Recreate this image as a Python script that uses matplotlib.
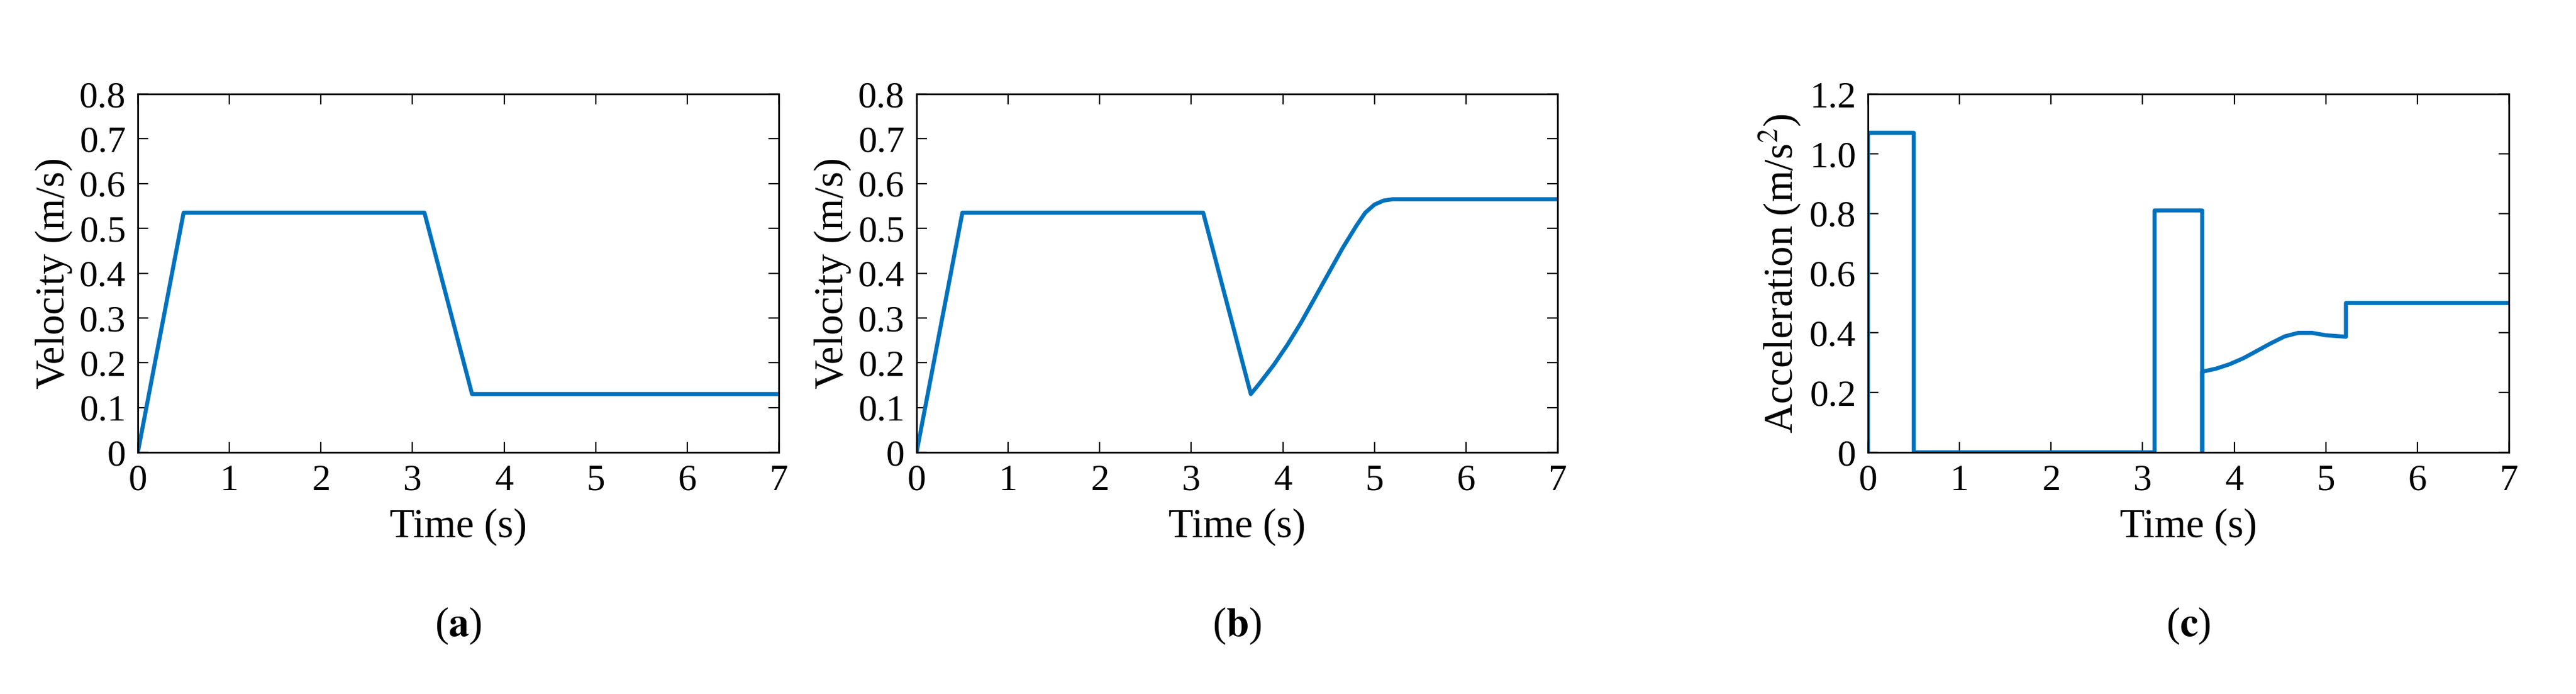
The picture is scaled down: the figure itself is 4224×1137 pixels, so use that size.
import matplotlib
matplotlib.use("Agg")
import matplotlib.pyplot as plt
from matplotlib.ticker import FuncFormatter

plt.rcParams['font.family'] = ['Liberation Serif', 'DejaVu Serif']
plt.rcParams['mathtext.fontset'] = 'stix'

t_a = [0, 0.5, 3.13, 3.65, 7]
v_a = [0, 0.535, 0.535, 0.13, 0.13]

t_b = [0, 0.5, 3.13, 3.65, 3.75, 3.9, 4.05, 4.2, 4.35, 4.5, 4.65, 4.8, 4.9, 5.0, 5.1, 5.2, 7]
v_b = [0, 0.535, 0.535, 0.13, 0.155, 0.195, 0.24, 0.29, 0.345, 0.40, 0.455, 0.505, 0.535, 0.553, 0.562, 0.565, 0.565]

t_c = [0, 0, 0.5, 0.5, 3.13, 3.13, 3.65, 3.65, 3.65, 3.8, 3.95, 4.1, 4.25, 4.4, 4.55, 4.7, 4.85, 5.0, 5.22, 5.22, 7]
a_c = [0, 1.07, 1.07, 0, 0, 0.81, 0.81, 0, 0.27, 0.28, 0.295, 0.315, 0.34, 0.365, 0.388, 0.40, 0.40, 0.392, 0.387, 0.5, 0.5]

color = '#0072BD'
fig = plt.figure(figsize=(21.12, 5.685), dpi=200)
lefts = [226/4224, 1503/4224, 3063/4224]
w = 1051/4224
bottom = 1 - 741/1137
h = (741-154)/1137
fs = 22

specs = [(t_a, v_a, 'Velocity (m/s)', 0.8, 0.1, 'a'),
         (t_b, v_b, 'Velocity (m/s)', 0.8, 0.1, 'b'),
         (t_c, a_c, 'Acceleration (m/s$^2$)', 1.2, 0.2, 'c')]
for l, (x, y, yl, ymax, step, tag) in zip(lefts, specs):
    ax = fig.add_axes([l, bottom, w, h])
    ax.plot(x, y, color=color, lw=2.4)
    ax.set_xlim(0, 7)
    ax.set_ylim(0, ymax)
    ax.set_xticks(range(8))
    n = int(round(ymax/step))
    ax.set_yticks([i*step for i in range(n+1)])
    ax.yaxis.set_major_formatter(FuncFormatter(lambda v, p: '0' if abs(v) < 1e-9 else f'{v:.1f}'))
    ax.tick_params(direction='in', labelsize=fs, length=6, pad=7, top=True, right=True, labeltop=False, labelright=False)
    ax.set_xlabel('Time (s)', fontsize=fs+2, labelpad=6)
    ax.set_ylabel(yl, fontsize=fs+2, labelpad=4)
    for s in ax.spines.values():
        s.set_linewidth(1.0)
    fig.text(l + w/2, 1 - 1025/1137, '(' + r'$\mathbf{' + tag + '}$' + ')', ha='center', va='center', fontsize=fs+2)

fig.savefig('out.png', dpi=200, facecolor='white')
